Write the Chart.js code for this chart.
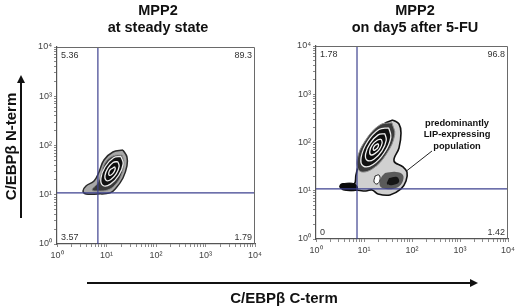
<!DOCTYPE html>
<html>
<head>
<meta charset="utf-8">
<script src="https://cdn.jsdelivr.net/npm/chart.js@4.4.1/dist/chart.umd.min.js"></script>
<style>
  body { margin: 0; background: #fff; width: 520px; height: 308px; overflow: hidden; position: relative;
         font-family: "Liberation Sans", Arial, sans-serif; }
  canvas { position: absolute; top: 0; }
  #left { left: 0; }
  #right { left: 260px; }
  .title { position: absolute; width: 220px; text-align: center; font-weight: bold; font-size: 14.5px;
           line-height: 17px; color: #111; }
  .axt { position: absolute; width: 200px; height: 17px; text-align: center; font-weight: bold; font-size: 15px;
         line-height: 17px; color: #111; }
  .bar { position: absolute; background: #111; }
  .head { position: absolute; width: 0; height: 0; }
</style>
</head>
<body>
<canvas id="left" width="275" height="308"></canvas>
<canvas id="right" width="260" height="308"></canvas>

<div class="title" style="left:48px; top:2px;">MPP2<br>at steady state</div>
<div class="title" style="left:305px; top:2px;">MPP2<br>on day5 after 5-FU</div>

<div class="axt" style="left:184px; top:289px;">C/EBPβ C-term</div>
<div class="axt" style="left:-90px; top:138px; transform: rotate(-90deg);">C/EBPβ N-term</div>

<div class="bar" style="left:87px; top:282px; width:384px; height:1.5px;"></div>
<div class="head" style="left:470px; top:278.7px; border-left:8px solid #111; border-top:4px solid transparent; border-bottom:4px solid transparent;"></div>
<div class="bar" style="left:20.3px; top:82px; width:1.5px; height:136px;"></div>
<div class="head" style="left:17px; top:75px; border-bottom:8px solid #111; border-left:4px solid transparent; border-right:4px solid transparent;"></div>

<script>
// axis ticks (both axes, both panels)
const tickValues = [1, 10, 100, 1000, 10000];
const tickLabels = ['10⁰', '10¹', '10²', '10³', '10⁴'];

// quadrant percentages: upper-left, upper-right, lower-left, lower-right
const leftQuadrants = ['5.36', '89.3', '3.57', '1.79'];
const rightQuadrants = ['1.78', '96.8', '0', '1.42'];

// gate positions (C-term, N-term)
const leftGate = [6.7, 10.9];
const rightGate = [7.15, 10.9];

// contour outlines, [C-term, N-term]
const leftOuter = [[21.5, 81], [25.9, 58.4], [25.9, 38.4], [21.5, 21.9], [15.6, 13.7], [11.8, 10.9], [6.7, 10.4],
  [3.85, 10.4], [3.35, 11.9], [3.85, 15.1], [5.6, 19.0], [7.05, 29.0], [8.9, 50.8], [13.5, 73.8]];
const leftBand = [[20.6, 64.1], [22.6, 44.1], [19.6, 24.0], [14.9, 15.8], [10.7, 12.5], [6.7, 11.9], [5.1, 12.5],
  [6.4, 16.5], [7.7, 25.2], [9.3, 44.1], [13.5, 61.2]];
const leftRing1 = [[19.6, 59.8], [21.7, 42.5], [17.7, 24.9], [12.0, 16.4], [8.5, 15.4], [7.7, 21.7], [9.4, 37.0], [13.9, 56.3]];
const leftRing2 = [[16.9, 47.1], [18.0, 37.8], [15.8, 26.8], [12.3, 20.4], [9.9, 19.5], [9.3, 24.4], [10.6, 34.3], [13.6, 45.2]];
const leftRing3 = [[14.6, 37.0], [15.0, 33.6], [14.1, 28.7], [12.6, 25.4], [11.4, 24.8], [11.1, 27.4], [11.8, 32.1], [13.3, 34.6]];

const rightOuter = [[40.2, 292], [53.6, 242], [59, 157], [53.6, 76.9], [42.2, 41.4], [64.9, 31.1], [78.7, 24.5],
  [75, 15.9], [59, 10.9], [34.8, 8.2], [19.6, 8.6], [14.7, 10.4], [11, 9.9], [6.8, 10.4], [3.65, 10.9], [3.16, 12],
  [3.48, 13.8], [6.2, 13.8], [6.8, 21.2], [7.9, 37.6], [11, 69.9], [17, 143], [26.1, 242]];
const rightBand = [[38.3, 256], [43.6, 144], [29.3, 58], [14.8, 28.2], [8.25, 25.4], [7.25, 45.1], [10.8, 112], [21.4, 231]];
const rightRing1 = [[32.7, 202], [36.2, 128], [26.6, 62.1], [15.4, 35], [9.7, 32.3], [8.7, 48.9], [11.9, 105], [20.5, 186]];
const rightRing2 = [[27.1, 153], [29.1, 112], [23.6, 66.9], [16.1, 45.1], [11.7, 42.6], [10.8, 58.3], [13.5, 96.7], [19.7, 144]];
const rightRing3 = [[22.8, 118], [23.9, 97.7], [21, 72.3], [16.8, 58.9], [13.9, 55.4], [13.2, 66.7], [15, 90], [18.8, 111]];
const rightRing4 = [[19.8, 94.4], [20.1, 87.1], [19.1, 76.9], [17.3, 71.3], [16, 68.9], [15.6, 74.8], [16.5, 84.6], [18.3, 91.4]];
const rightLip = [[27.4, 23.3], [46.4, 24.5], [64.9, 21.2], [61.9, 14.5], [46.4, 11.4], [28.7, 10.9], [21.5, 12.5], [22.6, 18.4]];
const rightLipCore = [[33.2, 18.4], [48.7, 19.3], [53.6, 15.2], [40.2, 13.2], [30.1, 13.8]];
const rightGap = [[17, 20.2], [20.5, 21.2], [21.5, 16.7], [18.7, 13.8], [16.2, 15.2]];
const rightTail = [[3.16, 12], [3.48, 13.8], [6.5, 13.8], [7.15, 10.4], [3.65, 10.4]];

// annotation
const noteLines = ['predominantly', 'LIP-expressing', 'population'];
const noteLeader = [[78, 26], [261, 66.7]];
const noteAnchor = [866, 254];

Chart.defaults.font.family = '"Liberation Sans", Arial, sans-serif';

function shape(points, fill, line, width) {
  const pts = points.concat([points[0]]);
  return {
    data: pts.map(p => ({ x: p[0], y: p[1] })),
    showLine: true, fill: 'shape', backgroundColor: fill,
    borderColor: line, borderWidth: width, pointRadius: 0, tension: 0.4
  };
}

function segment(a, b, color, width) {
  return {
    data: [{ x: a[0], y: a[1] }, { x: b[0], y: b[1] }],
    showLine: true, fill: false, borderColor: color, borderWidth: width, pointRadius: 0
  };
}

function gateLines(g) {
  return [
    segment([g[0], 1], [g[0], 10000], '#3d418f', 1.2),
    segment([1, g[1]], [10000, g[1]], '#3d418f', 1.2)
  ];
}

const panelText = {
  id: 'panelText',
  afterDatasetsDraw(chart, args, opts) {
    const { ctx, chartArea: a } = chart;
    ctx.save();
    ctx.strokeStyle = '#6a6a6a';
    ctx.lineWidth = 1;
    ctx.beginPath();
    ctx.moveTo(a.left, a.top + 0.5);
    ctx.lineTo(a.right - 0.5, a.top + 0.5);
    ctx.lineTo(a.right - 0.5, a.bottom);
    ctx.stroke();

    const q = opts.quadrants;
    ctx.font = '9px "Liberation Sans", Arial, sans-serif';
    ctx.fillStyle = '#333';
    ctx.textBaseline = 'top';
    ctx.textAlign = 'left';
    ctx.fillText(q[0], a.left + 4, a.top + 4);
    ctx.textAlign = 'right';
    ctx.fillText(q[1], a.right - 3, a.top + 4);
    ctx.textBaseline = 'bottom';
    ctx.textAlign = 'left';
    ctx.fillText(q[2], a.left + 4, a.bottom - 2);
    ctx.textAlign = 'right';
    ctx.fillText(q[3], a.right - 3, a.bottom - 2);

    if (opts.note) {
      const xs = chart.scales.x, ys = chart.scales.y;
      const cx = xs.getPixelForValue(noteAnchor[0]);
      const cy = ys.getPixelForValue(noteAnchor[1]);
      ctx.font = 'bold 9.3px "Liberation Sans", Arial, sans-serif';
      ctx.fillStyle = '#111';
      ctx.textAlign = 'center';
      ctx.textBaseline = 'middle';
      noteLines.forEach((t, i) => ctx.fillText(t, cx, cy + i * 11.5));
    }
    ctx.restore();
  }
};

function logAxis(fitSize, isX) {
  return {
    type: 'logarithmic', min: 1, max: 10000,
    afterBuildTicks(scale) {
      const ticks = [];
      tickValues.slice(0, -1).forEach(d => {
        for (let m = 1; m < 10; m++) ticks.push({ value: m * d });
      });
      ticks.push({ value: 10000 });
      scale.ticks = ticks;
    },
    afterFit(scale) {
      if (isX) scale.height = fitSize; else scale.width = fitSize;
    },
    grid: { drawOnChartArea: false, drawTicks: true, tickLength: 3, color: '#8a8a8a', tickWidth: 1 },
    border: { display: true, color: '#555', width: 1.2 },
    ticks: {
      autoSkip: false, maxRotation: 0, padding: isX ? 3 : 2, color: '#444',
      font: { size: 9 },
      callback(value) {
        const i = tickValues.indexOf(value);
        return i >= 0 ? tickLabels[i] : '';
      }
    }
  };
}

function makePanel(id, datasets, padding, yWidth, quadrants, note) {
  return new Chart(document.getElementById(id), {
    type: 'scatter',
    data: { datasets },
    options: {
      responsive: false, animation: false, events: [],
      layout: { padding },
      scales: { x: logAxis(24, true), y: logAxis(yWidth, false) },
      plugins: { legend: { display: false }, tooltip: { enabled: false }, panelText: { quadrants, note } }
    },
    plugins: [panelText]
  });
}

// first dataset is drawn on top
const leftSets = [
  ...gateLines(leftGate),
  shape(leftRing3, '#0b0b0b', '#f2f2f2', 1.3),
  shape(leftRing2, '#0d0d0d', '#f2f2f2', 1.3),
  shape(leftRing1, '#111', '#eeeeee', 1.3),
  shape(leftBand, '#3a3a3a', '#8c8c8c', 1),
  shape(leftOuter, '#a8a8a8', '#2a2a2a', 1.5)
];

const rightSets = [
  ...gateLines(rightGate),
  segment(noteLeader[0], noteLeader[1], '#222', 1),
  shape(rightRing4, '#0b0b0b', '#f2f2f2', 1.3),
  shape(rightRing3, '#0b0b0b', '#f2f2f2', 1.3),
  shape(rightRing2, '#0d0d0d', '#f2f2f2', 1.3),
  shape(rightRing1, '#111', '#eeeeee', 1.3),
  shape(rightBand, '#3a3a3a', '#8c8c8c', 1),
  shape(rightGap, '#ffffff', '#222', 1),
  shape(rightTail, '#0a0a0a', '#0a0a0a', 1),
  shape(rightLipCore, '#161616', 'rgba(0,0,0,0)', 0),
  shape(rightLip, '#5a5a5a', 'rgba(0,0,0,0)', 0),
  shape(rightOuter, '#d0d0d0', '#111', 1.6)
];

makePanel('left', leftSets, { top: 47, left: 0, right: 20, bottom: 40 }, 57, leftQuadrants, false);
makePanel('right', rightSets, { top: 46, left: 0, right: 12, bottom: 45 }, 56, rightQuadrants, true);
</script>
</body>
</html>
